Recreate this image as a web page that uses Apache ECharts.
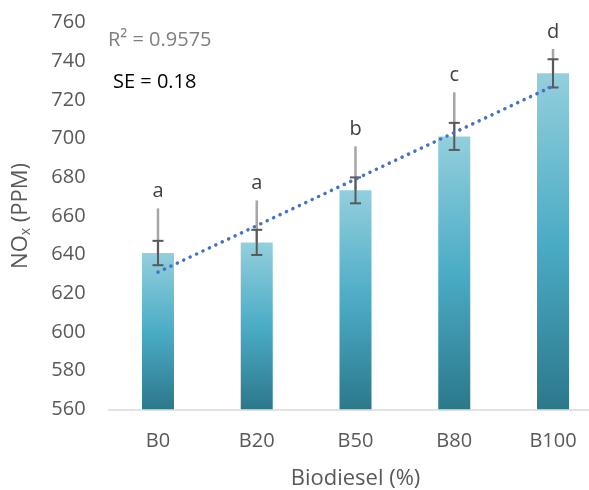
<!DOCTYPE html>
<html>
<head>
<meta charset="utf-8">
<script src="https://cdn.jsdelivr.net/npm/echarts@6/dist/echarts.min.js"></script>
<style>
html,body{margin:0;padding:0;background:#fff;}
#chart{width:589px;height:490px;}
</style>
</head>
<body>
<div id="chart"></div>
<script>
// ---- data ----
const categories = ['B0', 'B20', 'B50', 'B80', 'B100'];
const noxValues = [640.8, 646.3, 673.2, 701.1, 733.7];
const seErrors = [6.3, 6.5, 6.7, 7.0, 7.3];        // dark capped error bars (±)
const upperErrors = [23.1, 21.7, 22.8, 22.8, 12.6]; // grey plus-only error bars
const letters = ['a', 'a', 'b', 'c', 'd'];
const yTicks = { min: 560, max: 760, interval: 20 };
const r2Text = 'R² = 0.9575';
const seText = 'SE = 0.18';

// linear trendline (least squares over category index)
const n = noxValues.length;
const xs = noxValues.map((_, i) => i + 1);
const mx = xs.reduce((a, b) => a + b, 0) / n;
const my = noxValues.reduce((a, b) => a + b, 0) / n;
let sxy = 0, sxx = 0;
for (let i = 0; i < n; i++) { sxy += (xs[i] - mx) * (noxValues[i] - my); sxx += (xs[i] - mx) ** 2; }
const slope = sxy / sxx, intercept = my - slope * mx;
const trend = xs.map(x => intercept + slope * x);

const errData = noxValues.map((v, i) => [i, v, seErrors[i], upperErrors[i]]);

const chart = echarts.init(document.getElementById('chart'), null, { renderer: 'canvas' });
const font = '"Open Sans", sans-serif';

chart.setOption({
  animation: false,
  backgroundColor: '#ffffff',
  grid: { left: 108.6, right: -13.4, top: 22.5, bottom: 80.7, containLabel: false, outerBoundsMode: 'none' },
  xAxis: {
    type: 'category',
    data: categories,
    boundaryGap: true,
    axisLine: { show: true, lineStyle: { color: '#d9d9d9', width: 1.5 } },
    axisTick: { show: false },
    axisLabel: { color: '#595959', fontSize: 20, fontFamily: font, margin: 22 },
    name: 'Biodiesel (%)',
    nameLocation: 'middle',
    nameGap: 58,
    nameTextStyle: { color: '#595959', fontSize: 22, fontFamily: font }
  },
  yAxis: {
    type: 'value',
    min: yTicks.min, max: yTicks.max, interval: yTicks.interval,
    axisLine: { show: false },
    axisTick: { show: false },
    splitLine: { show: false },
    axisLabel: { color: '#595959', fontSize: 20, fontFamily: font, margin: 23 },
    name: '{a|NO}{s|x}{a| (PPM)}',
    nameLocation: 'middle',
    nameGap: 76,
    nameTextStyle: {
      color: '#595959', fontFamily: font,
      rich: {
        a: { fontSize: 22, color: '#595959', fontFamily: font },
        s: { fontSize: 14, color: '#595959', fontFamily: font, verticalAlign: 'bottom', padding: [10, 0, 0, 0] }
      }
    }
  },
  graphic: [
    { type: 'text', left: 108, top: 30, style: { text: r2Text, fill: '#7f7f7f', font: '20px "Open Sans", sans-serif' } },
    { type: 'text', left: 113, top: 72, style: { text: seText, fill: '#000000', font: '20px "Open Sans", sans-serif' } }
  ],
  series: [
    {
      type: 'bar',
      data: noxValues,
      barWidth: 32,
      itemStyle: {
        color: new echarts.graphic.LinearGradient(0, 0, 0, 1, [
          { offset: 0, color: '#93CFDD' },
          { offset: 0.5, color: '#4BACC6' },
          { offset: 1, color: '#2C788B' }
        ])
      },
      z: 2
    },
    {
      type: 'custom',
      data: errData,
      z: 3,
      renderItem: function (params, api) {
        const i = api.value(0), v = api.value(1), se = api.value(2), up = api.value(3);
        const base = api.coord([i, v]);
        const top = api.coord([i, v + up]);
        const hi = api.coord([i, v + se]);
        const lo = api.coord([i, v - se]);
        const x = base[0];
        const cw = 5.5;
        return {
          type: 'group',
          children: [
            { type: 'line', shape: { x1: x, y1: base[1], x2: x, y2: top[1] }, style: { stroke: '#a6a6a6', lineWidth: 2.5 } },
            { type: 'line', shape: { x1: x, y1: lo[1], x2: x, y2: hi[1] }, style: { stroke: '#595959', lineWidth: 2 } },
            { type: 'line', shape: { x1: x - cw, y1: hi[1], x2: x + cw, y2: hi[1] }, style: { stroke: '#595959', lineWidth: 2 } },
            { type: 'line', shape: { x1: x - cw, y1: lo[1], x2: x + cw, y2: lo[1] }, style: { stroke: '#595959', lineWidth: 2 } },
            { type: 'text', x: x, y: top[1] - 17, style: { text: letters[params.dataIndex], fill: '#404040', font: '20px "Open Sans", sans-serif', align: 'center', verticalAlign: 'middle' } }
          ]
        };
      }
    },
    {
      type: 'line',
      data: trend,
      symbol: 'none',
      z: 4,
      lineStyle: { color: '#4472C4', width: 3.5, type: [0.1, 7], cap: 'round' }
    }
  ]
});
</script>
</body>
</html>
